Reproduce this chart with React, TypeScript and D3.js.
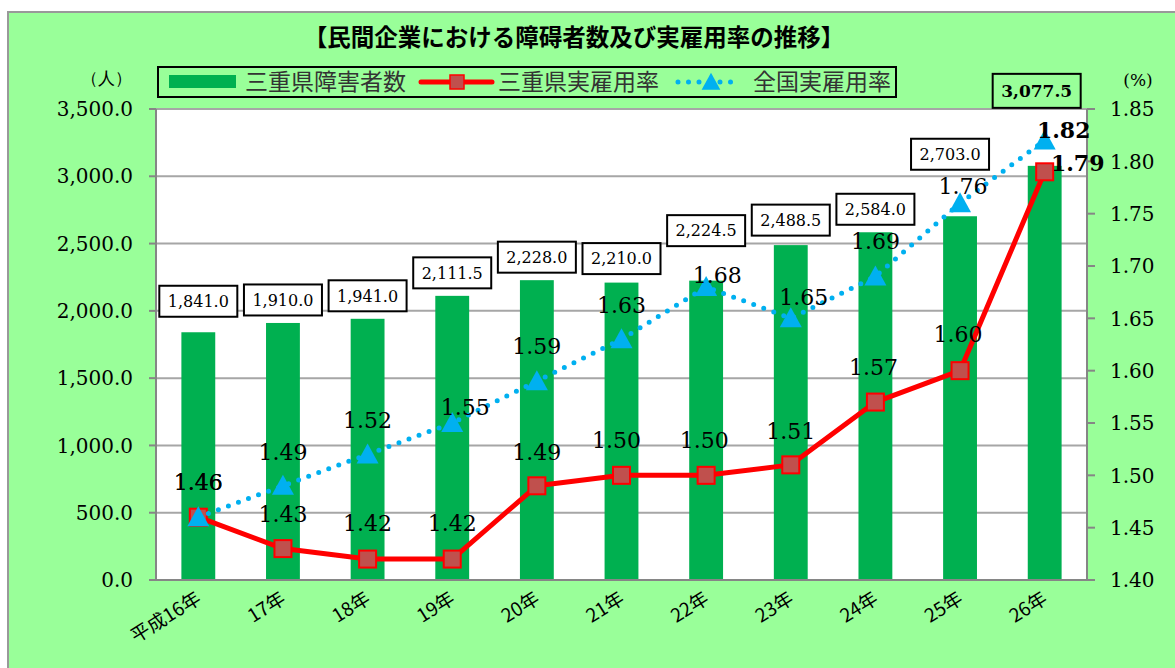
import * as d3 from "d3";

const width = 1175;
const height = 668;
const plotLeft = 156;
const plotRight = 1087;
const plotTop = 109;
const plotBottom = 580;

const serif = "'DejaVu Serif', serif";
const gothic = "'Noto Sans CJK JP', 'Noto Sans', sans-serif";

const categories = ["平成16年", "17年", "18年", "19年", "20年", "21年", "22年", "23年", "24年", "25年", "26年"];
const workers = [1841.0, 1910.0, 1941.0, 2111.5, 2228.0, 2210.0, 2224.5, 2488.5, 2584.0, 2703.0, 3077.5];
const mieRate = [1.46, 1.43, 1.42, 1.42, 1.49, 1.5, 1.5, 1.51, 1.57, 1.6, 1.79];
const nationalRate = [1.46, 1.49, 1.52, 1.55, 1.59, 1.63, 1.68, 1.65, 1.69, 1.76, 1.82];

const leftTicks = d3.range(0, 3501, 500);
const rightTicks = d3.range(0, 10).map((i) => 1.4 + i * 0.05);

// hand-placed label nudges (pixels), like the dragged labels in the original
const barLabelLift = [8, 0, 0, 0, 0, 1, 27, 2, 0, 39, 52];
const barLabelDx = [0, 0, 0, 0, 0, 0, 0, 0, 0, -10, -8];
const mieLabelShift: [number, number][] = [
  [0, -35], [0, -35], [0, -36], [0, -36], [0, -34], [-5, -35], [-2, -35], [0, -34], [-2, -35], [-2, -37], [33, -9],
];
const natLabelShift: [number, number][] = [
  [0, -35], [0, -34], [0, -34], [13, -16], [0, -35], [0, -34], [11, -12], [13, -21], [0, -35], [3, -17], [19, -10],
];

const App = () => {
  const x = d3
    .scaleBand<string>()
    .domain(categories)
    .range([plotLeft, plotRight])
    .paddingInner(0.6)
    .paddingOuter(0.3);
  const cx = (i: number) => (x(categories[i]) as number) + x.bandwidth() / 2;

  const yLeft = d3.scaleLinear().domain([0, 3500]).range([plotBottom, plotTop]);
  const yRight = d3.scaleLinear().domain([1.4, 1.85]).range([plotBottom, plotTop]);

  const fmtCount = d3.format(",.1f");
  const fmtRate = d3.format(".2f");

  const line = d3
    .line<number>()
    .x((_, i) => cx(i))
    .y((d) => yRight(d));

  const last = categories.length - 1;
  const tri = (px: number, py: number, s: number) =>
    `M${px},${py - s * 0.55}L${px + s * 0.55},${py + s * 0.45}L${px - s * 0.55},${py + s * 0.45}Z`;

  return (
    <svg
      width={width}
      height={height}
      viewBox={`0 0 ${width} ${height}`}
      style={{ position: "absolute", left: 0, top: 0 }}
    >
      <rect x={0} y={0} width={width} height={height} fill="#ffffff" />
      <rect x={8} y={12} width={1300} height={800} fill="#99ff99" stroke="#999999" strokeWidth={2} />

      {/* title */}
      <text x={574} y={46} textAnchor="middle" fontFamily={gothic} fontWeight="bold" fontSize={23.5} fill="#000">
        【民間企業における障碍者数及び実雇用率の推移】
      </text>

      {/* legend */}
      <g fontFamily={gothic} fontSize={23} fill="#333">
        <rect x={158} y={67} width={738} height={30} fill="none" stroke="#000" strokeWidth={2} />
        <rect x={169} y={75} width={67} height={13} fill="#00b050" />
        <text x={245} y={90}>三重県障害者数</text>
        <line x1={421} x2={492} y1={82} y2={82} stroke="#ff0000" strokeWidth={5} strokeLinecap="round" />
        <rect x={450} y={75} width={14} height={14} fill="#c0504d" stroke="#ff0000" strokeWidth={1.5} />
        <text x={498} y={90}>三重県実雇用率</text>
        <line
          x1={678}
          x2={736}
          y1={82}
          y2={82}
          stroke="#00b0f0"
          strokeWidth={5}
          strokeDasharray="0 10.5"
          strokeLinecap="round"
        />
        <path d={tri(711, 82, 17)} fill="#00b0f0" />
        <text x={753} y={90}>全国実雇用率</text>
      </g>

      {/* axis unit labels */}
      <text x={106} y={84} textAnchor="middle" fontFamily={serif} fontSize={17} fill="#000">
        （人）
      </text>
      <text x={1138} y={86} textAnchor="middle" fontFamily={serif} fontSize={17} fill="#000">
        (%)
      </text>

      {/* plot area */}
      <rect x={plotLeft} y={plotTop} width={plotRight - plotLeft} height={plotBottom - plotTop} fill="#ffffff" />
      {leftTicks.map((t) => (
        <line key={t} x1={plotLeft} x2={plotRight} y1={yLeft(t)} y2={yLeft(t)} stroke="#a6a6a6" strokeWidth={2} />
      ))}

      {/* bars */}
      {workers.map((v, i) => (
        <rect
          key={i}
          x={x(categories[i])}
          y={yLeft(v)}
          width={x.bandwidth()}
          height={plotBottom - yLeft(v)}
          fill="#00b050"
        />
      ))}

      {/* axes */}
      <g stroke="#868686" strokeWidth={2}>
        <line x1={plotLeft} x2={plotLeft} y1={plotTop} y2={plotBottom} />
        <line x1={plotRight} x2={plotRight} y1={plotTop} y2={plotBottom} />
        <line x1={plotLeft - 7} x2={plotRight} y1={plotBottom} y2={plotBottom} />
        {leftTicks.map((t) => (
          <line key={t} x1={plotLeft - 7} x2={plotLeft} y1={yLeft(t)} y2={yLeft(t)} />
        ))}
        {rightTicks.map((t, i) => (
          <line key={i} x1={plotRight} x2={plotRight + 8} y1={yRight(t)} y2={yRight(t)} />
        ))}
      </g>
      <g fontFamily={serif} fontSize={20} fill="#000">
        {leftTicks.map((t) => (
          <text key={t} x={133} y={yLeft(t)} dy="0.36em" textAnchor="end">
            {fmtCount(t)}
          </text>
        ))}
        {rightTicks.map((t, i) => (
          <text key={i} x={1110} y={yRight(t)} dy="0.36em" textAnchor="start">
            {fmtRate(t)}
          </text>
        ))}
      </g>
      <g fontFamily={gothic} fontSize={19} fill="#000">
        {categories.map((c, i) => (
          <text key={c} transform={`translate(${cx(i) + 4},${plotBottom + 22}) rotate(-32)`} textAnchor="end">
            {c}
          </text>
        ))}
      </g>

      {/* 三重県実雇用率 */}
      <path d={line(mieRate) as string} fill="none" stroke="#ff0000" strokeWidth={5} strokeLinejoin="round" />
      {mieRate.map((v, i) => (
        <rect
          key={i}
          x={cx(i) - 8.5}
          y={yRight(v) - 8.5}
          width={17}
          height={17}
          fill="#c0504d"
          stroke="#ff0000"
          strokeWidth={2}
        />
      ))}

      {/* 全国実雇用率 */}
      <path
        d={line(nationalRate) as string}
        fill="none"
        stroke="#00b0f0"
        strokeWidth={5}
        strokeDasharray="0 10.7"
        strokeLinecap="round"
      />
      {nationalRate.map((v, i) => (
        <path key={i} d={tri(cx(i), yRight(v), 20)} fill="#00b0f0" />
      ))}

      {/* bar labels */}
      {workers.map((v, i) => {
        const bold = i === last;
        const w = bold ? 88 : 78;
        const h = bold ? 34 : 31;
        const lx = cx(i) + barLabelDx[i];
        const ly = yLeft(v) - 23 - barLabelLift[i];
        return (
          <g key={i}>
            <rect
              x={lx - w / 2}
              y={ly - h / 2}
              width={w}
              height={h}
              fill={bold ? "#99ff99" : "#ffffff"}
              stroke="#000"
              strokeWidth={2}
            />
            <text
              x={lx}
              y={ly}
              dy="0.36em"
              textAnchor="middle"
              fontFamily={serif}
              fontSize={bold ? 17 : 16}
              fontWeight={bold ? "bold" : "normal"}
              fill="#000"
            >
              {fmtCount(v)}
            </text>
          </g>
        );
      })}

      {/* rate labels */}
      <g fontFamily={serif} fontSize={22} fill="#000" textAnchor="middle">
        {mieRate.map((v, i) => (
          <text
            key={`m${i}`}
            x={cx(i) + mieLabelShift[i][0]}
            y={yRight(v) + mieLabelShift[i][1]}
            dy="0.36em"
            fontWeight={i === last ? "bold" : "normal"}
          >
            {fmtRate(v)}
          </text>
        ))}
        {nationalRate.map((v, i) => (
          <text
            key={`n${i}`}
            x={cx(i) + natLabelShift[i][0]}
            y={yRight(v) + natLabelShift[i][1]}
            dy="0.36em"
            fontWeight={i === last ? "bold" : "normal"}
          >
            {fmtRate(v)}
          </text>
        ))}
      </g>
    </svg>
  );
};

export default App;
